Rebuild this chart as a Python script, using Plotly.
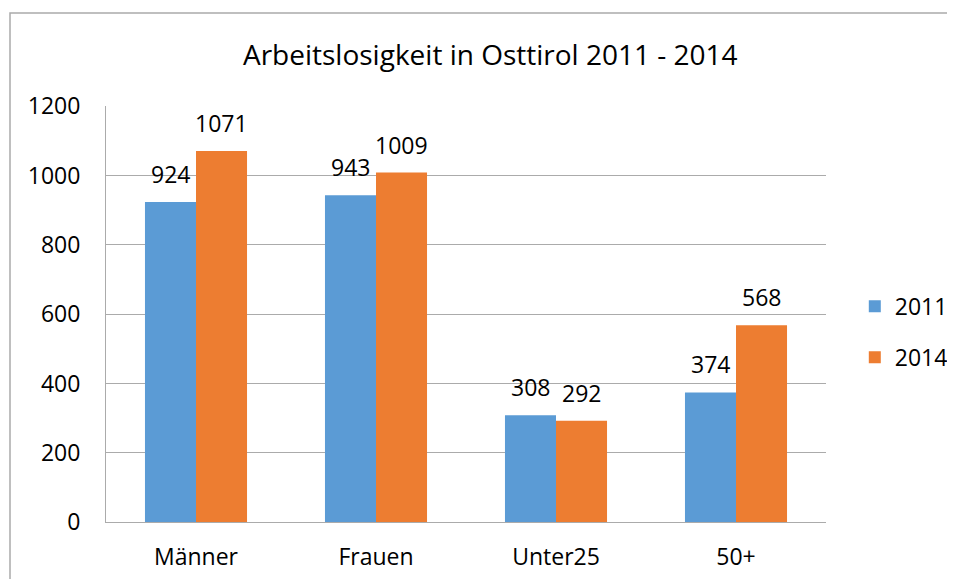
import plotly.graph_objects as go

categories = ["Männer", "Frauen", "Unter25", "50+"]
years = ["2011", "2014"]
values_2011 = [924, 943, 308, 374]
values_2014 = [1071, 1009, 292, 568]
colors = ["#5B9BD5", "#ED7D31"]

FONT = "Open Sans"
BAR_PX = 51  # width of one bar in pixels, used to place the value labels

fig = go.Figure()
for i, (name, vals, col) in enumerate(zip(years, [values_2011, values_2014], colors)):
    fig.add_trace(go.Bar(
        x=categories, y=vals, name=name, legendgroup=name,
        marker=dict(color=col, line=dict(width=0)),
    ))
    shift = (i - 0.5) * BAR_PX
    for cat, v in zip(categories, vals):
        fig.add_annotation(x=cat, y=v, text=str(v), showarrow=False,
                           xshift=shift, yshift=10, yanchor="bottom",
                           font=dict(size=23, color="#000000", family=FONT))

fig.update_layout(
    width=955, height=579,
    margin=dict(l=98, r=137, t=98, b=65, autoexpand=False),
    paper_bgcolor="white", plot_bgcolor="white",
    barmode="group", bargap=0.433, bargroupgap=0,
    font=dict(family=FONT, size=23, color="#000000"),
    title=dict(text="Arbeitslosigkeit in Osttirol 2011 - 2014",
               x=0.505, xanchor="center", y=0.919, yanchor="middle",
               font=dict(size=28, family=FONT, color="#000000")),
    legend=dict(x=1.04, y=0.457, xanchor="left", yanchor="middle",
                font=dict(size=23, family=FONT), itemwidth=30,
                tracegroupgap=18, bgcolor="rgba(0,0,0,0)"),
    showlegend=True,
)
fig.update_yaxes(range=[0, 1201], tickvals=[0, 200, 400, 600, 800, 1000, 1200],
                 showgrid=True, gridcolor="#ABABAB", gridwidth=1,
                 showline=True, linecolor="#ABABAB", linewidth=1,
                 zeroline=False, ticks="", ticklabelstandoff=20)
fig.update_xaxes(showline=True, linecolor="#ABABAB", linewidth=1, ticks="",
                 ticklabelstandoff=14)

# outer chart border (continues past right and bottom edge)
fig.add_shape(type="rect", xref="paper", yref="paper",
              x0=-96 / 720, x1=1.3, y0=-0.3, y1=1 + 93 / 416,
              line=dict(color="#ABABAB", width=1.5), layer="below")

fig.write_html("out.html")
